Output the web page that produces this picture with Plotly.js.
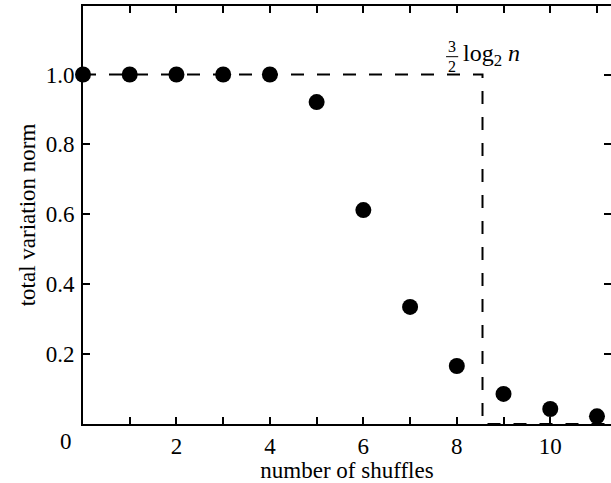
<!DOCTYPE html>
<html><head><meta charset="utf-8">
<script src="https://cdn.plot.ly/plotly-3.0.1.min.js"></script>
<style>html,body{margin:0;padding:0;background:#fff;overflow:hidden}</style>
</head><body><div id="chart" style="width:611px;height:483px"></div>
<script>
const shuffles = [0,1,2,3,4,5,6,7,8,9,10,11];
const tvNorm = [1.0,1.0,1.0,1.0,1.0,0.921,0.612,0.335,0.166,0.086,0.043,0.022];
const cutoff = 8.55;           // (3/2) log2 52
const xTickVals = [2,4,6,8,10];
const xTickText = ['2','4','6','8','10'];
const xMinorVals = [1,3,5,7,9,11];
const yTickVals = [0.2,0.4,0.6,0.8,1.0];
const yTickText = ['0.2','0.4','0.6','0.8','1.0'];
const xMax = 11.3, yMax = 1.196;

const F = 'Liberation Serif, Times New Roman, serif';
const traces = [
  {x:[0,cutoff,cutoff,xMax], y:[1,1,0,0], yaxis:'y2', mode:'lines',
   line:{color:'#000', width:2, dash:'13px,13px'}, hoverinfo:'skip', cliponaxis:false},
  {x:shuffles, y:tvNorm, mode:'markers', marker:{color:'#000', size:16},
   cliponaxis:false}
];
const layout = {
  width:611, height:483, showlegend:false,
  paper_bgcolor:'#fff', plot_bgcolor:'#fff',
  margin:{l:83, r:0, t:6, b:59},
  font:{family:F, size:23, color:'#000'},
  xaxis:{range:[0,xMax], tickvals:xTickVals, ticktext:xTickText,
    ticks:'inside', ticklen:7, tickwidth:2, tickcolor:'#000',
    showline:true, linewidth:2, linecolor:'#000', mirror:'ticks',
    showgrid:false, zeroline:false,
    minor:{tickvals:xMinorVals, ticks:'inside', ticklen:7, tickwidth:2, tickcolor:'#000', showgrid:false},
    title:{text:'number of shuffles', font:{family:F, size:23}, standoff:2},
    tickfont:{family:F, size:23}},
  yaxis:{range:[0,yMax], tickvals:yTickVals, ticktext:yTickText,
    ticks:'inside', ticklen:7, tickwidth:2, tickcolor:'#000',
    showline:true, linewidth:2, linecolor:'#000',
    showgrid:false, zeroline:false, ticklabelstandoff:2,
    title:{text:'total variation norm', font:{family:F, size:23}, standoff:4},
    tickfont:{family:F, size:23}},
  yaxis2:{range:[0,yMax], overlaying:'y', side:'right', tickvals:yTickVals,
    showticklabels:false, ticks:'inside', ticklen:7, tickwidth:2, tickcolor:'#000',
    showline:false, showgrid:false, zeroline:false},
  annotations:[
    {x:0, y:0, xref:'x', yref:'y', text:'0', showarrow:false, xshift:-17, yshift:-17,
     font:{family:F, size:23}},
    {x:7.9, y:1.081, xref:'x', yref:'y', text:'3', showarrow:false, font:{family:F, size:16}},
    {x:7.9, y:1.022, xref:'x', yref:'y', text:'2', showarrow:false, font:{family:F, size:16}},
    {x:8.1, y:1.056, xref:'x', yref:'y', xanchor:'left', text:'log<sub>2</sub> <i>n</i>',
     showarrow:false, font:{family:F, size:24}}
  ],
  shapes:[
    {type:'line', xref:'x', yref:'y', x0:7.77, x1:8.03, y0:1.051, y1:1.051,
     line:{color:'#000', width:1}}
  ]
};
Plotly.newPlot('chart', traces, layout, {displayModeBar:false, staticPlot:true});
</script></body></html>
